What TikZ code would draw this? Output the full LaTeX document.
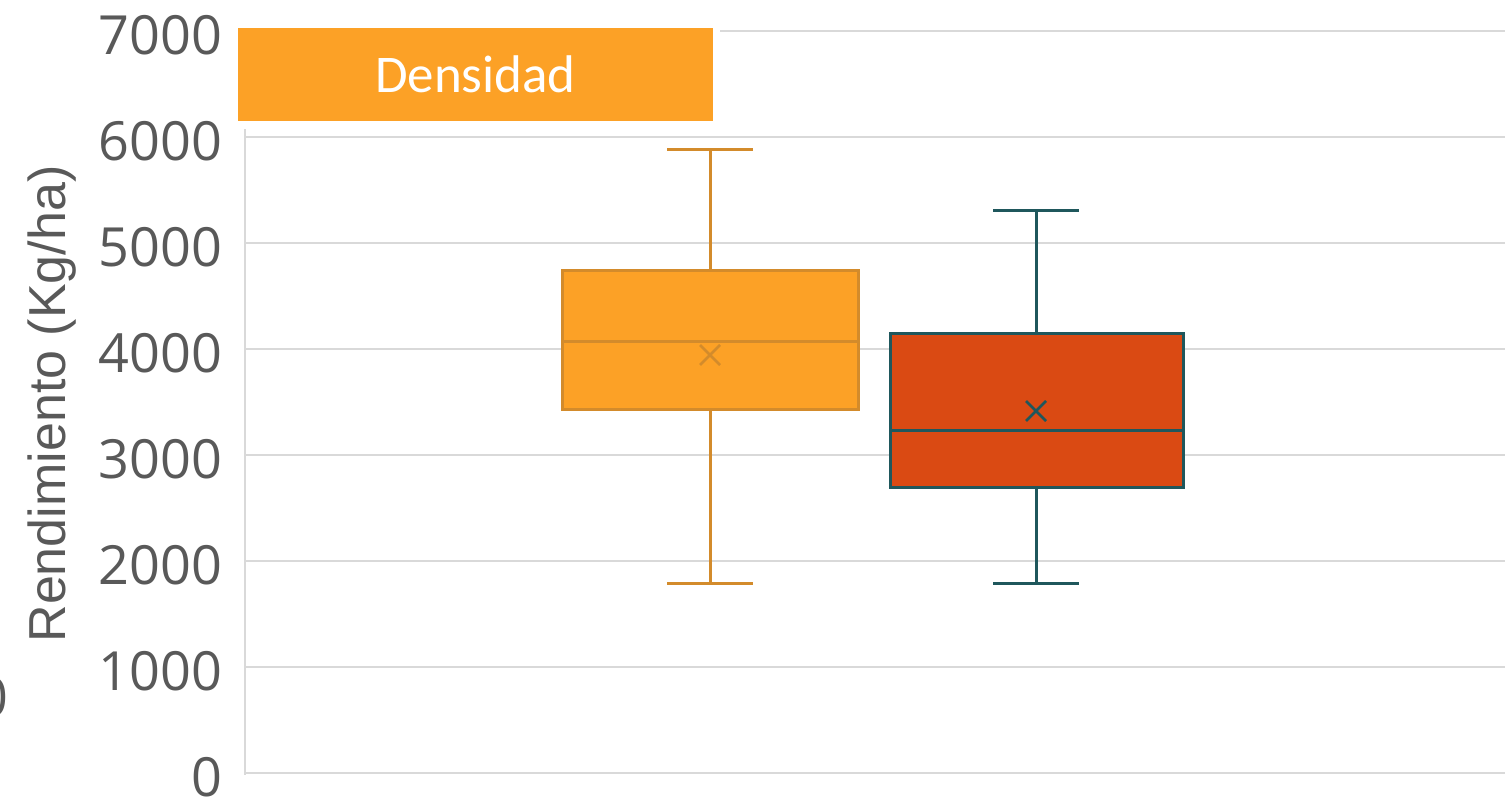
\documentclass[tikz,border=0pt]{standalone}
\usepackage{fontspec}
\setmainfont{Open Sans}
\newfontfamily\legendfont{Carlito}
\newfontfamily\axisfont{Liberation Sans}

\definecolor{gridgray}{HTML}{D9D9D9}
\definecolor{textgray}{HTML}{595959}
\definecolor{fillA}{HTML}{FCA126}
\definecolor{lineA}{HTML}{D38B2B}
\definecolor{fillB}{HTML}{DA4A13}
\definecolor{lineB}{HTML}{1F575C}

\begin{document}
\begin{tikzpicture}[x=1pt,y=-1pt]

\tikzstyle{every node}=[inner sep=0pt,outer sep=0pt]
\tikzstyle{grid line}=[draw=gridgray,line width=2.2pt]
\tikzstyle{tick label}=[anchor=east,text=textgray,font=\fontsize{54}{54}\selectfont]
\tikzstyle{box A}=[draw=lineA,fill=fillA,line width=3pt,rectangle]
\tikzstyle{box B}=[draw=lineB,fill=fillB,line width=3pt,rectangle]

\useasboundingbox (0,0) rectangle (1505,803);

% grid and axis
\foreach \k in {0,...,6}
  \draw[grid line] (245,{773-106*\k}) -- (1505,{773-106*\k});
\draw[grid line] (720,31) -- (1505,31);
\draw[grid line] (245,129) -- (245,775);

\foreach \k/\val in {0/0,1/1000,2/2000,3/3000,4/4000,5/5000,6/6000,7/7000}
  \node[tick label] (tick\k) at (222,{777-106*\k}) {\val};
\node[tick label] (cutlabel) at (8,697) {0};

\node[text=textgray,rotate=90,font=\axisfont\fontsize{52}{52}\selectfont]
  (ylabel) at (52,404) {Rendimiento (Kg/ha)};

% legend
\node[fill=fillA,minimum width=475,minimum height=93,text=white,
  font=\legendfont\fontsize{53}{53}\selectfont] (legend) at (475.5,74.5) {Densidad};

% box A
\coordinate (topA) at (710,149);
\coordinate (botA) at (710,583);
\draw[lineA,line width=3pt] (topA) -- (botA);
\draw[lineA,line width=3pt] ([xshift=-43]topA) -- ([xshift=43]topA);
\draw[lineA,line width=3pt] ([xshift=-43]botA) -- ([xshift=43]botA);
\node[box A,minimum width=296,minimum height=139] (boxA) at (710,339.5) {};
\draw[lineA,line width=3pt] (boxA.west |- 0,341) -- (boxA.east |- 0,341);
\coordinate (meanA) at (710,355);
\draw[lineA,line width=2.5pt] ([shift={(-10,-10)}]meanA) -- ([shift={(10,10)}]meanA)
  ([shift={(-10,10)}]meanA) -- ([shift={(10,-10)}]meanA);

% box B
\coordinate (topB) at (1036,210);
\coordinate (botB) at (1036,583);
\draw[lineB,line width=3pt] (topB) -- (botB);
\draw[lineB,line width=3pt] ([xshift=-43]topB) -- ([xshift=43]topB);
\draw[lineB,line width=3pt] ([xshift=-43]botB) -- ([xshift=43]botB);
\node[box B,minimum width=293,minimum height=154] (boxB) at (1036.5,410) {};
\draw[lineB,line width=3pt] (boxB.west |- 0,430) -- (boxB.east |- 0,430);
\coordinate (meanB) at (1036,411);
\draw[lineB,line width=2.5pt] ([shift={(-10,-10)}]meanB) -- ([shift={(10,10)}]meanB)
  ([shift={(-10,10)}]meanB) -- ([shift={(10,-10)}]meanB);

\end{tikzpicture}
\end{document}
